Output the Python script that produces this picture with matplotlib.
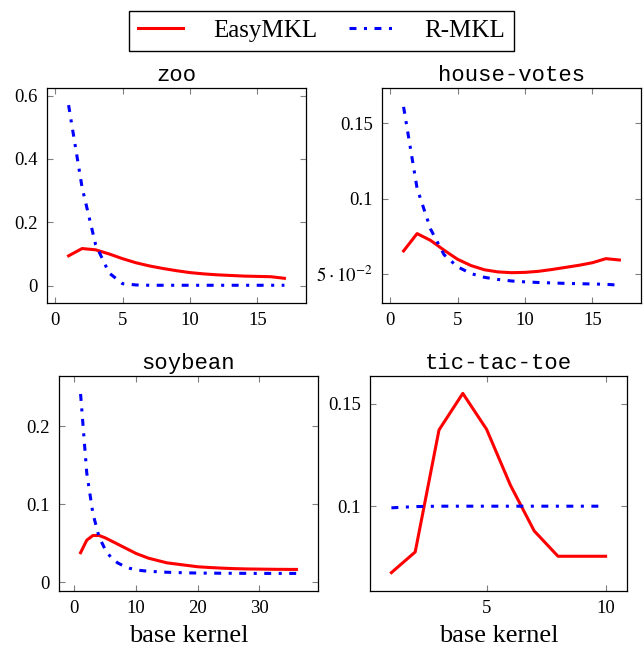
"""Loss curves per base kernel for EasyMKL vs R-MKL on four datasets."""
import matplotlib
matplotlib.use("Agg")
import matplotlib.pyplot as plt
import numpy as np
from matplotlib.ticker import FixedLocator, FixedFormatter

plt.rcParams.update({"font.family": "Liberation Serif", "mathtext.fontset": "stix",
                     "lines.scale_dashes": False})

zoo_x = np.arange(1, 18)
zoo_easy = [0.094, 0.117, 0.113, 0.100, 0.085, 0.072, 0.062, 0.054, 0.047,
            0.041, 0.037, 0.034, 0.032, 0.030, 0.029, 0.028, 0.023]
zoo_rmkl = [0.57, 0.31, 0.13, 0.04, 0.006, 0.002, 0.001, 0.001, 0.001,
            0.001, 0.001, 0.001, 0.001, 0.001, 0.001, 0.001, 0.001]

hv_x = np.arange(1, 18)
hv_easy = [0.0655, 0.077, 0.0725, 0.066, 0.060, 0.0558, 0.053, 0.0516, 0.0511,
           0.0513, 0.052, 0.0532, 0.0546, 0.056, 0.0577, 0.0604, 0.0595]
hv_rmkl = [0.161, 0.107, 0.080, 0.063, 0.055, 0.0505, 0.048, 0.0466, 0.0456,
           0.045, 0.0446, 0.0443, 0.044, 0.0438, 0.0436, 0.0434, 0.0428]

soy_x = np.arange(1, 37)
soy_easy = [0.038, 0.054, 0.060, 0.060, 0.057, 0.053, 0.049, 0.045, 0.041,
            0.037, 0.034, 0.031, 0.029, 0.027, 0.025, 0.024, 0.023, 0.022,
            0.021, 0.020, 0.0195, 0.019, 0.0186, 0.0182, 0.0179, 0.0176,
            0.0174, 0.0172, 0.0171, 0.017, 0.0169, 0.0168, 0.0167, 0.0167,
            0.0166, 0.0166]
soy_rmkl = [0.241, 0.14, 0.088, 0.058, 0.042, 0.031, 0.025, 0.021, 0.018,
            0.016, 0.015, 0.0143, 0.0138, 0.0134, 0.013, 0.0127, 0.0125,
            0.0123, 0.0121, 0.012, 0.0119, 0.0118, 0.0118, 0.0117, 0.0117,
            0.0116, 0.0116, 0.0116, 0.0115, 0.0115, 0.0115, 0.0115, 0.0115,
            0.0115, 0.0115, 0.0115]

ttt_x = np.arange(1, 11)
ttt_easy = [0.0675, 0.0776, 0.1373, 0.1552, 0.1376, 0.1103, 0.0879, 0.0755,
            0.0755, 0.0755]
ttt_rmkl = [0.0992, 0.0998, 0.1, 0.1, 0.1, 0.1, 0.1, 0.1, 0.1, 0.1]

W, H = 644, 649
RED = "#ff0000"
BLUE = "#0000ff"
DASHDOT = (0, (5, 5.4, 2.2, 5.4))


def rect(l, r, t, b):
    return [l / W, 1 - b / H, (r - l) / W, (b - t) / H]


fig = plt.figure(figsize=(W / 100, H / 100), dpi=100)

panels = [
    ("zoo", rect(47, 306, 88, 303), zoo_x, zoo_easy, zoo_rmkl,
     (-0.6, 18.6), (-0.055, 0.624), [0, 5, 10, 15], [0, 0.2, 0.4, 0.6],
     ["0", "0.2", "0.4", "0.6"], False),
    ("house-votes", rect(382, 641, 88, 303), hv_x, hv_easy, hv_rmkl,
     (-0.6, 18.6), (0.031, 0.1735), [0, 5, 10, 15], [0.05, 0.1, 0.15],
     [r"$5\cdot10^{-2}$", "0.1", "0.15"], False),
    ("soybean", rect(59, 318, 376, 591), soy_x, soy_easy, soy_rmkl,
     (-2.5, 39.5), (-0.011, 0.264), [0, 10, 20, 30], [0, 0.1, 0.2],
     ["0", "0.1", "0.2"], True),
    ("tic-tac-toe", rect(370, 627, 376, 591), ttt_x, ttt_easy, ttt_rmkl,
     (0.1, 10.9), (0.0585, 0.1637), [5, 10], [0.1, 0.15],
     ["0.1", "0.15"], True),
]

for title, pos, x, easy, rmkl, xl, yl, xt, yt, ytl, bottom in panels:
    ax = fig.add_axes(pos)
    l1, = ax.plot(x, easy, color=RED, lw=2.2, label="EasyMKL")
    l2, = ax.plot(x, rmkl, color=BLUE, lw=2.2, linestyle=DASHDOT,
                  dash_capstyle="butt", label="R-MKL")
    ax.set_xlim(*xl)
    ax.set_ylim(*yl)
    ax.xaxis.set_major_locator(FixedLocator(xt))
    ax.xaxis.set_major_formatter(FixedFormatter([str(v) for v in xt]))
    ax.yaxis.set_major_locator(FixedLocator(yt))
    ax.yaxis.set_major_formatter(FixedFormatter(ytl))
    ax.tick_params(direction="in", length=4.5, width=0.8, color="#808080",
                   top=True, right=True, labelsize=13.5, labelcolor="black")
    ax.tick_params(axis="y", pad=6.5)
    ax.tick_params(axis="x", pad=6.5)
    for s in ax.spines.values():
        s.set_color("black")
        s.set_linewidth(0.9)
    ax.set_title(title, family="Liberation Mono", fontsize=16, pad=5)
    if bottom:
        ax.set_xlabel("base kernel", fontsize=19, labelpad=6)

leg = fig.legend([l1, l2], ["EasyMKL", "R-MKL"], loc="center",
                 bbox_to_anchor=(321.5 / W, 1 - 30.5 / H), ncol=2,
                 fontsize=18, frameon=True, fancybox=False, edgecolor="black",
                 framealpha=1, handlelength=1.8, handletextpad=1.2,
                 columnspacing=1.3, borderpad=0.35)
leg.get_frame().set_linewidth(1.0)

fig.savefig("out.png", dpi=100)
